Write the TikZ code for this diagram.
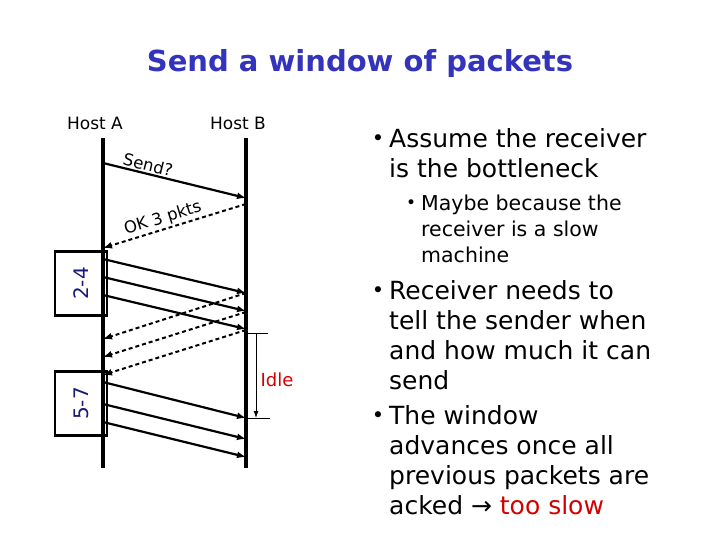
\documentclass[tikz,border=0pt]{standalone}
\usepackage{fontspec}
\setmainfont{DejaVu Sans}
\usetikzlibrary{positioning,arrows.meta}
\definecolor{titleblue}{RGB}{51,51,187}
\definecolor{rangenavy}{RGB}{25,25,120}
\definecolor{idlered}{RGB}{210,0,0}
\tikzset{
  lifeline/.style={line width=3.6pt},
  pktarrow/.style={-{Latex[length=9pt,width=7pt]}, line width=2.2pt},
  ackarrow/.style={-{Latex[length=9pt,width=7pt]}, line width=2pt, dash pattern=on 4pt off 3pt},
  winbox/.style={draw, line width=2.6pt, minimum width=52pt, minimum height=64pt, inner sep=0pt},
  winlabel/.style={rotate=90, text=rangenavy, font=\fontsize{20}{20}\selectfont},
  hostlabel/.style={font=\fontsize{17}{17}\selectfont},
  msglabel/.style={font=\fontsize{16.5}{16.5}\selectfont, sloped, above, inner sep=1.5pt},
  idletick/.style={line width=0.9pt},
  bulletitem/.style={anchor=north west, align=left, inner sep=0pt, font=\fontsize{25}{30}\selectfont},
  subitem/.style={anchor=north west, align=left, inner sep=0pt, font=\fontsize{20.5}{26}\selectfont}
}
\newcommand{\bigdot}{\llap{\raisebox{2pt}{\fontsize{21}{21}\selectfont•}\hspace{5pt}}}
\newcommand{\smalldot}{\llap{\raisebox{1.5pt}{\fontsize{17}{17}\selectfont•}\hspace{5pt}}}

\begin{document}
\begin{tikzpicture}[x=1pt, y=-1pt, >=Latex]
  \useasboundingbox[fill=white] (0,0) rectangle (720,540);
  \node[font=\bfseries\fontsize{29}{29}\selectfont, text=titleblue] (title) at (360,64) {Send a window of packets};

  % hosts and their time lines
  \node[hostlabel] (hostA) at (95,123) {Host A};
  \node[hostlabel] (hostB) at (238,123) {Host B};
  \coordinate (atop) at (103,138);
  \coordinate (abot) at (103,468);
  \coordinate (btop) at (246,138);
  \coordinate (bbot) at (246,468);

  % windows
  \node[winbox] (win24) at (81,283.5) {};
  \node[winbox] (win57) at (81,403.5) {};
  \node[winlabel] (lbl24) at (win24.center) {2-4};
  \node[winlabel] (lbl57) at (win57.center) {5-7};

  \draw[lifeline] (atop) -- (abot);
  \draw[lifeline] (btop) -- (bbot);

  % handshake
  \coordinate (asend) at (103,163);
  \coordinate (bsend) at (246,198);
  \coordinate (bok) at (246,204);
  \coordinate (aok) at (103,248);
  \draw[pktarrow] (asend) -- node[msglabel, pos=0.3] {Send?} (bsend);
  \draw[ackarrow] (bok) -- node[msglabel, pos=0.56] {OK 3 pkts} (aok);

  % packets and acks
  \foreach \n/\ya/\yb in {2/259/293, 3/277/311, 4/295/329, 5/382/418, 6/404/439, 7/422/457} {
    \coordinate (pa\n) at (103,\ya);
    \coordinate (pb\n) at (246,\yb);
    \draw[pktarrow] (pa\n) -- (pb\n);
  }
  \foreach \n/\yb/\ya in {2/293/339, 3/312/357, 4/330/375} {
    \coordinate (kb\n) at (246,\yb);
    \coordinate (ka\n) at (103,\ya);
    \draw[ackarrow] (kb\n) -- (ka\n);
  }

  % idle time at the receiver
  \coordinate (idletop) at (256,333);
  \coordinate (idlebot) at (256,418);
  \draw[idletick] ([xshift=-10pt]idletop) -- ([xshift=12pt]idletop);
  \draw[idletick] ([xshift=-10pt]idlebot) -- ([xshift=14pt]idlebot);
  \draw[idletick, -{Latex[length=7pt,width=5pt]}] (idletop) -- (idlebot);
  \node[text=idlered, font=\fontsize{18}{18}\selectfont] (idle) at (277,380) {Idle};

  % bullets
  \node[bulletitem] (item1) at (389,128) {\bigdot Assume the receiver\\is the bottleneck};
  \node[subitem] (sub1) at (421,194.5) {\smalldot Maybe because the\\receiver is a slow\\machine};
  \node[bulletitem] (item2) at (389,280) {\bigdot Receiver needs to\\tell the sender when\\and how much it can\\send};
  \node[bulletitem] (item3) at (389,405) {\bigdot The window\\advances once all\\previous packets are\\acked → \textcolor{idlered}{too slow}};
\end{tikzpicture}
\end{document}
